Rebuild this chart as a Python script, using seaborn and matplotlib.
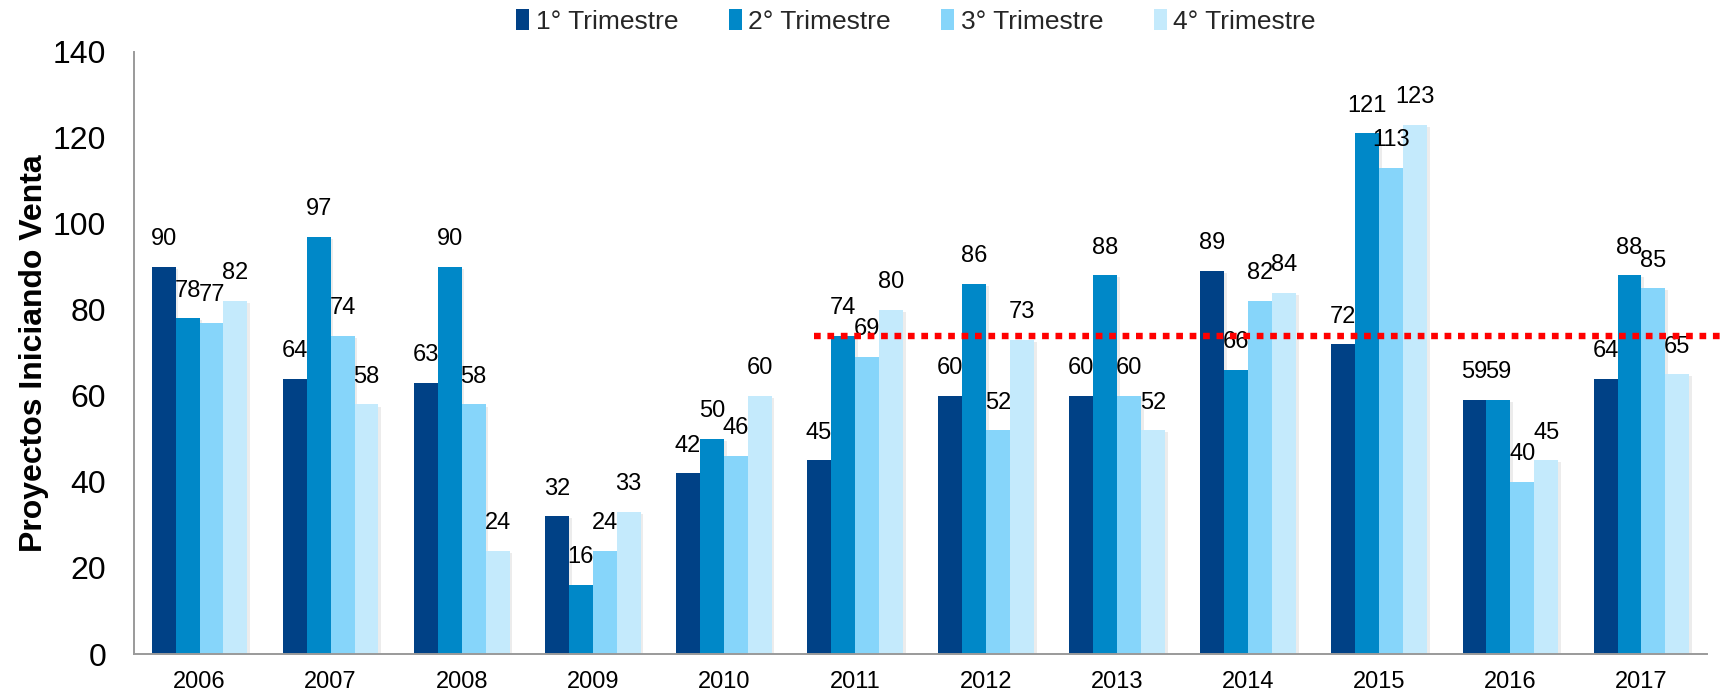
import matplotlib
matplotlib.use("Agg")
import matplotlib.pyplot as plt
import matplotlib.patheffects as pe
import seaborn as sns
import pandas as pd
from matplotlib.patches import Patch
from matplotlib import font_manager

years = ["2006", "2007", "2008", "2009", "2010", "2011", "2012", "2013", "2014", "2015", "2016", "2017"]
series_names = ["1° Trimestre", "2° Trimestre", "3° Trimestre", "4° Trimestre"]
q1 = [90, 64, 63, 32, 42, 45, 60, 60, 89, 72, 59, 64]
q2 = [78, 97, 90, 16, 50, 74, 86, 88, 66, 121, 59, 88]
q3 = [77, 74, 58, 24, 46, 69, 52, 60, 82, 113, 40, 85]
q4 = [82, 58, 24, 33, 60, 80, 73, 52, 84, 123, 45, 65]
reference_level = 74
reference_start_year = "2011"
colors = ["#004186", "#0088C8", "#86D5FA", "#C4EAFC"]
y_label = "Proyectos Iniciando Venta"

sns.set_theme(style="white")
plt.rcParams['font.family'] = ['Liberation Sans', 'DejaVu Sans']

# legend font: narrow if available
legend_family = 'Liberation Sans'
legend_size = 19
legend_colspacing = 1.9
try:
    font_manager.findfont('Liberation Sans Narrow', fallback_to_default=False)
    legend_family = 'Liberation Sans Narrow'
    legend_size = 22
    legend_colspacing = 1.6
except Exception:
    pass

rows = []
for name, vals in zip(series_names, [q1, q2, q3, q4]):
    for y, v in zip(years, vals):
        rows.append({"Año": y, "Serie": name, "Valor": v})
df = pd.DataFrame(rows)

fig = plt.figure(figsize=(17.25, 6.94), dpi=100)
ax = fig.add_axes([134/1725, 40/694, 1573/1725, 602.4/694])

sns.barplot(data=df, x="Año", y="Valor", hue="Serie", palette=colors,
            width=0.73, gap=0, saturation=1, ax=ax, legend=False,
            edgecolor="none", linewidth=0, errorbar=None)

for p in ax.patches:
    p.set_path_effects([pe.SimplePatchShadow(offset=(2, -1.5), shadow_rgbFace="#999999", alpha=0.18),
                        pe.Normal()])

for cont in ax.containers:
    ax.bar_label(cont, fmt="%d", padding=12, fontsize=17, color="black")

ax.set_ylim(0, 140)
ax.set_yticks(range(0, 141, 20))
ax.set_xlim(-0.5, 11.5)
ax.tick_params(axis='y', labelsize=23, length=0, pad=20, colors="black")
ax.tick_params(axis='x', labelsize=17, length=0, pad=12, colors="black")
ax.set_xlabel("")
ax.set_ylabel(y_label, fontsize=23, fontweight="bold", labelpad=3, color="black")

for side in ["top", "right"]:
    ax.spines[side].set_visible(False)
for side in ["left", "bottom"]:
    ax.spines[side].set_color("#9a9a9a")
    ax.spines[side].set_linewidth(1.4)

start = years.index(reference_start_year) - 0.31
ax.plot([start, 11.65], [reference_level, reference_level], color="#FF0000",
        linestyle=(0, (1.05, 1.05)), linewidth=4.6, clip_on=False, zorder=5)

handles = [Patch(facecolor=c, edgecolor="none") for c in colors]
fig.legend(handles, series_names, loc="center", bbox_to_anchor=(0.531, 0.969),
           ncol=4, frameon=False, prop={'family': legend_family, 'size': legend_size},
           handlelength=0.5, handleheight=0.85, handletextpad=0.25,
           columnspacing=legend_colspacing)

fig.savefig("out.png", dpi=100)
